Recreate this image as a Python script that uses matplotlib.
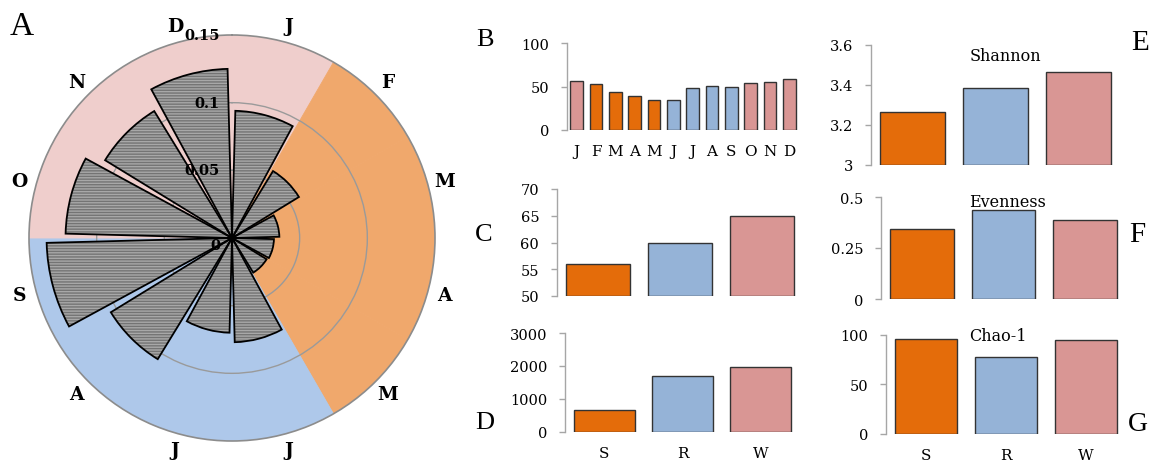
import numpy as np
import matplotlib
matplotlib.use("Agg")
import matplotlib.pyplot as plt
from matplotlib.transforms import offset_copy

# ---- data -------------------------------------------------------------
months = ["J", "F", "M", "A", "M", "J", "J", "A", "S", "O", "N", "D"]
month_season = ["W", "S", "S", "S", "S", "R", "R", "R", "R", "W", "W", "W"]
polar_values = [0.094, 0.058, 0.035, 0.031, 0.030, 0.077,
                0.070, 0.105, 0.137, 0.123, 0.110, 0.125]
polar_ticks = [0, 0.05, 0.1, 0.15]
polar_ticklabels = ["0", "0.05", "0.1", "0.15"]

monthly_values = [56.5, 52.7, 43.8, 39.2, 34.6, 34.6,
                  48.5, 50.8, 49.6, 54.2, 55.8, 59.2]

seasons = ["S", "R", "W"]
panel_c = [56, 60, 65]
panel_d = [680, 1710, 1970]
shannon = [3.262, 3.383, 3.465]
evenness = [0.344, 0.434, 0.385]
chao1 = [96, 77.5, 94.6]

# ---- styling ----------------------------------------------------------
bar_colors = {"S": "#e46c0a", "R": "#95b3d7", "W": "#d99694"}
wedge_colors = {"S": "#f0a86c", "R": "#aec8ea", "W": "#efcecc"}
axis_gray = "#a6a6a6"
serif = ["DejaVu Serif"]
letter_font = ["Liberation Serif", "DejaVu Serif"]

W, H = 1153, 464
fig = plt.figure(figsize=(W / 100, H / 100), dpi=100)


def rect(left, top, right, bottom):
    return [left / W, 1 - bottom / H, (right - left) / W, (bottom - top) / H]


def ftext(x, y, s, **kw):
    fig.text(x / W, 1 - y / H, s, **kw)


# ---- panel A: polar chart ---------------------------------------------
axA = fig.add_axes(rect(29, 36, 435, 442), projection="polar")
axA.set_theta_zero_location("N")
axA.set_theta_direction(-1)
theta = np.deg2rad(15 + 30 * np.arange(12))

# seasonal background wedges
for t, s in zip(theta, month_season):
    axA.bar(t, 0.15, width=np.deg2rad(30), bottom=0, color=wedge_colors[s],
            edgecolor=wedge_colors[s], linewidth=0.6, zorder=1)

axA.set_ylim(0, 0.15)
axA.set_rgrids([0.05, 0.1])
axA.yaxis.grid(True, color="#9a9a9a", linewidth=1.0)
axA.xaxis.grid(False)
axA.set_xticks([])
axA.set_yticklabels([])
axA.spines["polar"].set_color("#8c8c8c")
axA.spines["polar"].set_linewidth(1.2)

# hatched month bars with black outlines
plt.rcParams["hatch.linewidth"] = 1.0
axA.bar(theta, polar_values, width=np.deg2rad(27), bottom=0,
        facecolor="#a8a8a8", edgecolor="#747474", hatch="------",
        linewidth=0, zorder=3)
axA.bar(theta, polar_values, width=np.deg2rad(27), bottom=0,
        facecolor="none", edgecolor="black", linewidth=1.3, zorder=4)

for t, m in zip(theta, months):
    axA.text(t, 0.1625, m, ha="center", va="center", fontsize=13.5,
             fontweight="bold", family=serif, clip_on=False)

lab_tr = offset_copy(axA.transData, fig=fig, x=-12, y=0, units="dots")
for r, lab in zip(polar_ticks, polar_ticklabels):
    axA.text(0, r, lab, transform=lab_tr, ha="right",
             va="top" if r == 0 else "center", fontsize=10.5,
             fontweight="bold", family=serif, zorder=6, clip_on=False)


# ---- bar panels -------------------------------------------------------
def bar_panel(box, values, cats, ylim, yticks, yticklabels, xlabels=None,
              width=0.78):
    ax = fig.add_axes(box)
    x = np.arange(len(values))
    base = ylim[0]
    vals = np.asarray(values, dtype=float)
    ax.bar(x, vals - base, bottom=base, width=width,
           color=[bar_colors[c] for c in cats], edgecolor="#333333",
           linewidth=1.0, zorder=3)
    ax.set_xlim(-0.5, len(values) - 0.5)
    ax.set_ylim(*ylim)
    for side in ("top", "right", "bottom"):
        ax.spines[side].set_visible(False)
    ax.spines["left"].set_color(axis_gray)
    ax.spines["left"].set_linewidth(1.0)
    ax.set_yticks(yticks)
    ax.set_yticklabels(yticklabels, family=serif, fontsize=10.5)
    ax.tick_params(axis="y", direction="out", length=4.3, width=1.0,
                   color=axis_gray, pad=8.5)
    if xlabels is None:
        ax.set_xticks([])
    else:
        ax.set_xticks(x)
        ax.set_xticklabels(xlabels, family=serif, fontsize=11)
        ax.tick_params(axis="x", length=0, pad=10)
    ax.patch.set_alpha(0)
    return ax


bar_panel(rect(567, 44.3, 799, 131), monthly_values, month_season,
          (0, 100), [0, 50, 100], ["0", "50", "100"], months, width=0.65)
bar_panel(rect(557, 190, 803, 297), panel_c, seasons,
          (50, 70), [50, 55, 60, 65, 70], ["50", "55", "60", "65", "70"])
bar_panel(rect(565, 334, 800, 433), panel_d, seasons,
          (0, 3000), [0, 1000, 2000, 3000], ["0", "1000", "2000", "3000"],
          seasons)
bar_panel(rect(871, 45.7, 1120, 165.7), shannon, seasons,
          (3, 3.6), [3, 3.2, 3.4, 3.6], ["3", "3.2", "3.4", "3.6"])
bar_panel(rect(881, 198, 1126, 300), evenness, seasons,
          (0, 0.5), [0, 0.25, 0.5], ["0", "0.25", "0.5"])
bar_panel(rect(886, 335.7, 1126, 435), chao1, seasons,
          (0, 100), [0, 50, 100], ["0", "50", "100"], seasons)

# panel titles
ftext(1005, 56.7, "Shannon", ha="center", va="center", fontsize=11.5,
      family=serif)
ftext(1008, 202.7, "Evenness", ha="center", va="center", fontsize=11.5,
      family=serif)
ftext(998, 336.7, "Chao-1", ha="center", va="center", fontsize=11.5,
      family=serif)

# panel letters
for x, y, s, size in [(22, 27, "A", 24), (485, 40, "B", 19),
                      (484, 235, "C", 19), (485, 423, "D", 19),
                      (1140, 43, "E", 21), (1137, 235, "F", 21),
                      (1138, 425, "G", 20)]:
    ftext(x, y, s, ha="center", va="center", fontsize=size,
          family=letter_font)

fig.savefig("out.png", dpi=100)
